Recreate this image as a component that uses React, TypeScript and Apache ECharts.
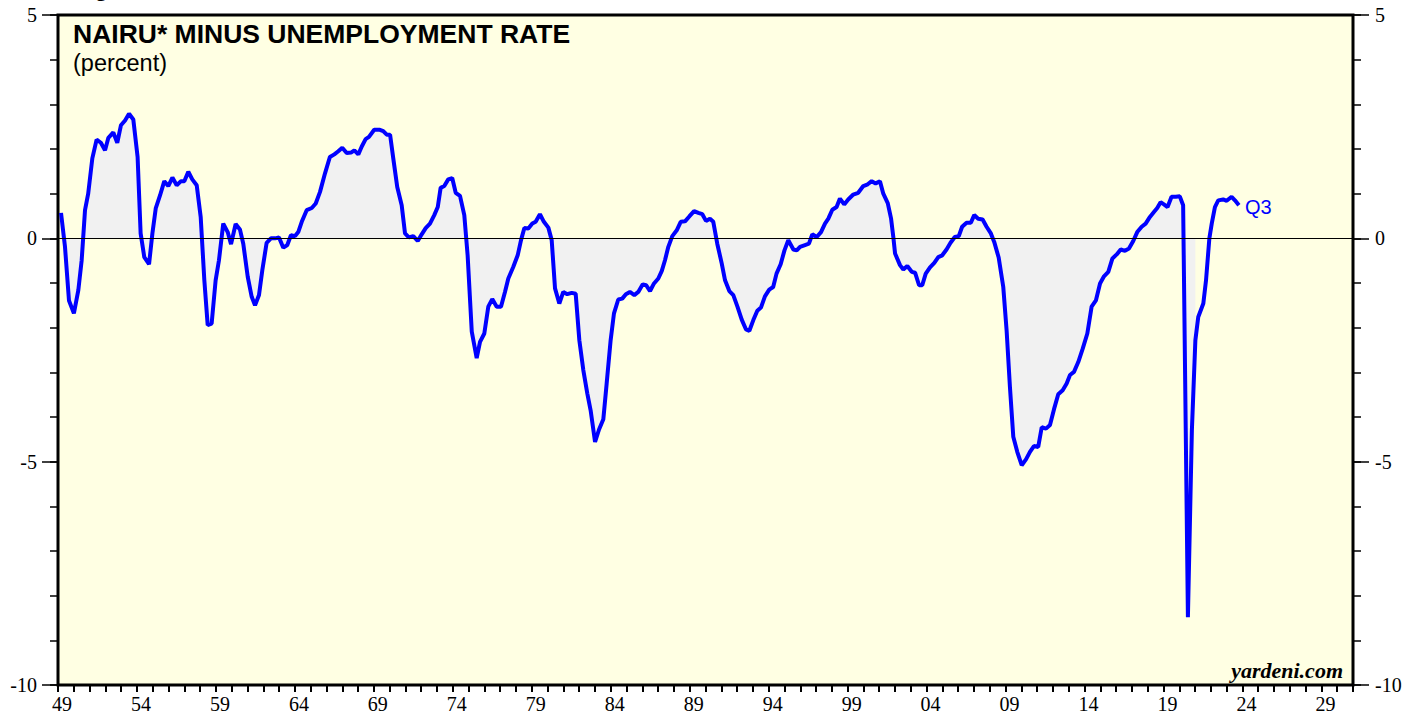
import React, { useEffect, useRef } from "react";
import * as echarts from "echarts";

// NAIRU minus unemployment rate as [year, percent]
const gap1949to1964: [number, number][] = [
  [1949.19, 0.57], [1949.44, -0.19], [1949.69, -1.39], [1950.0, -1.68], [1950.28, -1.16],
  [1950.49, -0.49], [1950.7, 0.63], [1950.9, 1.0], [1951.16, 1.79], [1951.43, 2.21],
  [1951.7, 2.14], [1951.96, 1.97], [1952.17, 2.25], [1952.48, 2.37], [1952.73, 2.14],
  [1952.96, 2.53], [1953.22, 2.64], [1953.47, 2.79], [1953.74, 2.66], [1954.01, 1.82],
  [1954.2, 0.11], [1954.43, -0.42], [1954.73, -0.58], [1954.94, 0.11], [1955.15, 0.67],
  [1955.42, 0.96], [1955.69, 1.28], [1955.94, 1.17], [1956.2, 1.36], [1956.47, 1.19],
  [1956.74, 1.28], [1956.95, 1.28], [1957.2, 1.49], [1957.45, 1.32], [1957.73, 1.19],
  [1957.98, 0.48], [1958.21, -0.94], [1958.42, -1.94], [1958.67, -1.91], [1958.92, -0.94],
  [1959.13, -0.49], [1959.4, 0.33], [1959.68, 0.14], [1959.89, -0.13], [1960.18, 0.32],
  [1960.45, 0.2], [1960.66, -0.12], [1960.94, -0.86], [1961.19, -1.31], [1961.4, -1.5],
  [1961.65, -1.27], [1961.86, -0.71], [1962.13, -0.1], [1962.4, 0.0], [1962.66, 0.0],
  [1962.91, 0.02], [1963.18, -0.21], [1963.43, -0.15], [1963.66, 0.07], [1963.92, 0.05],
  [1964.12, 0.14], [1964.34, 0.37], [1964.65, 0.63],
];

const gap1965to1979: [number, number][] = [
  [1964.97, 0.68], [1965.22, 0.78], [1965.49, 1.04], [1965.8, 1.45], [1966.11, 1.82],
  [1966.39, 1.88], [1966.64, 1.95], [1966.89, 2.03], [1967.17, 1.91], [1967.44, 1.92],
  [1967.65, 1.97], [1967.9, 1.88], [1968.11, 2.05], [1968.36, 2.22], [1968.57, 2.27],
  [1968.9, 2.43], [1969.26, 2.43], [1969.47, 2.4], [1969.69, 2.32], [1969.9, 2.32],
  [1970.1, 1.79], [1970.35, 1.15], [1970.63, 0.74], [1970.84, 0.11], [1971.08, 0.02],
  [1971.36, 0.05], [1971.64, -0.06], [1971.89, 0.09], [1972.14, 0.23], [1972.41, 0.33],
  [1972.68, 0.52], [1972.9, 0.7], [1973.08, 1.13], [1973.31, 1.17], [1973.56, 1.32],
  [1973.81, 1.35], [1974.03, 1.02], [1974.3, 0.95], [1974.57, 0.52], [1974.78, -0.38],
  [1975.04, -2.09], [1975.35, -2.68], [1975.56, -2.32], [1975.83, -2.13], [1976.08, -1.53],
  [1976.33, -1.36], [1976.61, -1.53], [1976.88, -1.53], [1977.13, -1.2], [1977.34, -0.9],
  [1977.65, -0.64], [1977.93, -0.38], [1978.14, -0.04], [1978.35, 0.23], [1978.6, 0.22],
  [1978.85, 0.33], [1979.06, 0.37], [1979.33, 0.54],
];

const gap1979to1994: [number, number][] = [
  [1979.58, 0.37], [1979.86, 0.24], [1980.07, -0.04], [1980.28, -1.12], [1980.55, -1.46],
  [1980.8, -1.2], [1981.05, -1.25], [1981.33, -1.22], [1981.58, -1.24], [1981.81, -2.28],
  [1982.06, -2.95], [1982.31, -3.47], [1982.52, -3.85], [1982.8, -4.56], [1983.05, -4.28],
  [1983.32, -4.05], [1983.53, -3.25], [1983.78, -2.28], [1983.99, -1.68], [1984.26, -1.37],
  [1984.51, -1.35], [1984.74, -1.25], [1984.99, -1.2], [1985.27, -1.27], [1985.52, -1.2],
  [1985.8, -1.03], [1986.01, -1.05], [1986.26, -1.18], [1986.51, -1.01], [1986.78, -0.9],
  [1987.0, -0.73], [1987.2, -0.49], [1987.41, -0.19], [1987.66, 0.05], [1987.94, 0.18],
  [1988.19, 0.37], [1988.46, 0.38], [1988.73, 0.49], [1989.03, 0.61], [1989.3, 0.57],
  [1989.55, 0.54], [1989.78, 0.39], [1990.03, 0.44], [1990.24, 0.37], [1990.49, -0.12],
  [1990.77, -0.56], [1990.98, -0.94], [1991.25, -1.18], [1991.5, -1.27], [1991.76, -1.53],
  [1992.03, -1.82], [1992.3, -2.04], [1992.51, -2.07], [1992.76, -1.83], [1993.01, -1.62],
  [1993.24, -1.55], [1993.49, -1.3], [1993.76, -1.15], [1994.01, -1.09], [1994.22, -0.79],
  [1994.48, -0.58], [1994.72, -0.27], [1994.96, -0.04],
];

const gap1995to2008: [number, number][] = [
  [1995.28, -0.25], [1995.49, -0.27], [1995.7, -0.19], [1996.01, -0.15], [1996.26, -0.12],
  [1996.47, 0.09], [1996.75, 0.03], [1997.02, 0.14], [1997.27, 0.33], [1997.48, 0.44],
  [1997.73, 0.64], [1998.0, 0.7], [1998.21, 0.89], [1998.48, 0.76], [1998.73, 0.87],
  [1999.05, 0.98], [1999.36, 1.02], [1999.68, 1.17], [1999.96, 1.21], [2000.21, 1.28],
  [2000.46, 1.23], [2000.73, 1.28], [2000.94, 1.0], [2001.22, 0.79], [2001.43, 0.44],
  [2001.57, 0.03], [2001.68, -0.34], [2001.99, -0.6], [2002.2, -0.7], [2002.45, -0.62],
  [2002.73, -0.75], [2002.94, -0.77], [2003.19, -1.05], [2003.39, -1.05], [2003.61, -0.79],
  [2003.88, -0.65], [2004.15, -0.55], [2004.4, -0.42], [2004.65, -0.38], [2004.92, -0.25],
  [2005.17, -0.1], [2005.44, 0.03], [2005.69, 0.05], [2005.9, 0.26], [2006.18, 0.35],
  [2006.45, 0.35], [2006.66, 0.52], [2006.91, 0.44], [2007.19, 0.42], [2007.44, 0.26],
  [2007.71, 0.11], [2007.92, -0.08], [2008.2, -0.43],
];

const gap2008to2023: [number, number][] = [
  [2008.49, -1.09], [2008.7, -2.06], [2008.91, -3.33], [2009.12, -4.44], [2009.37, -4.78],
  [2009.65, -5.08], [2009.92, -4.95], [2010.17, -4.78], [2010.42, -4.65], [2010.69, -4.67],
  [2010.91, -4.23], [2011.18, -4.26], [2011.43, -4.18], [2011.68, -3.83], [2011.95, -3.49],
  [2012.23, -3.4], [2012.48, -3.25], [2012.69, -3.06], [2012.94, -2.99], [2013.21, -2.77],
  [2013.49, -2.47], [2013.78, -2.13], [2014.05, -1.53], [2014.32, -1.39], [2014.58, -1.01],
  [2014.83, -0.85], [2015.1, -0.75], [2015.36, -0.45], [2015.63, -0.36], [2015.88, -0.25],
  [2016.15, -0.28], [2016.4, -0.23], [2016.67, -0.06], [2016.92, 0.14], [2017.2, 0.26],
  [2017.45, 0.33], [2017.72, 0.48], [2017.97, 0.59], [2018.18, 0.68], [2018.39, 0.81],
  [2018.6, 0.76], [2018.83, 0.7], [2019.08, 0.93], [2019.35, 0.93], [2019.6, 0.94],
  [2019.81, 0.74], [2020.11, -8.48], [2020.36, -4.3], [2020.58, -2.28], [2020.76, -1.76],
  [2021.08, -1.46], [2021.25, -0.94], [2021.46, 0.0], [2021.61, 0.33], [2021.81, 0.7],
  [2022.02, 0.85], [2022.33, 0.87], [2022.55, 0.84], [2022.86, 0.93], [2023.07, 0.85],
  [2023.32, 0.74],
];

const fillEndYear = 2020.58; // shaded area stops here in the reference
const labelYears = [1949, 1954, 1959, 1964, 1969, 1974, 1979, 1984, 1989, 1994, 1999, 2004, 2009, 2014, 2019, 2024, 2029];
const titleText = "NAIRU* MINUS UNEMPLOYMENT RATE";
const subtitleText = "(percent)";
const figureText = "Figure 1.";
const sourceText = "yardeni.com";
const lastLabel = "Q3";

const allGap = [...gap1949to1964, ...gap1965to1979, ...gap1979to1994, ...gap1995to2008, ...gap2008to2023];
const fillGap = allGap.filter((p) => p[0] <= fillEndYear);

const serif = '"Liberation Serif", "Times New Roman", serif';
const sans = '"Liberation Sans", Arial, sans-serif';

function buildOption(): echarts.EChartsOption {
  const yBase: any = {
    type: "value",
    min: -10,
    max: 5,
    axisLine: { show: false },
    splitLine: { show: false },
  };
  const majorLabel = { fontFamily: serif, fontSize: 20, color: "#000" };
  return {
    animation: false,
    backgroundColor: "#ffffff",
    grid: {
      left: 58,
      right: 66,
      top: 15,
      bottom: 30,
      show: true,
      backgroundColor: "#FFFFE3",
      borderColor: "#000",
      borderWidth: 3,
    },
    xAxis: [
      {
        type: "value",
        min: 1949,
        max: 2031,
        interval: 1,
        position: "bottom",
        axisLine: { show: false, onZero: false },
        splitLine: { show: false },
        axisTick: { show: true, length: 7, lineStyle: { color: "#000", width: 2 } },
        axisLabel: {
          fontFamily: serif,
          fontSize: 20,
          color: "#000",
          margin: 9,
          padding: [0, 0, 0, 8],
          showMinLabel: true,
          showMaxLabel: true,
          formatter: (v: number) => {
            const y = Math.round(v);
            return labelYears.includes(y) ? String(y).slice(2) : "";
          },
        },
      },
      { type: "value", min: 1949, max: 2030.5, show: false, axisLine: { onZero: false } },
    ],
    yAxis: [
      {
        ...yBase,
        position: "left",
        interval: 5,
        axisTick: { show: true, length: 16, lineStyle: { color: "#000", width: 1.5 } },
        axisLabel: { ...majorLabel, margin: 21 },
      },
      {
        ...yBase,
        position: "left",
        interval: 1,
        axisTick: { show: true, length: 8, lineStyle: { color: "#000", width: 1.5 } },
        axisLabel: { show: false },
      },
      {
        ...yBase,
        position: "right",
        interval: 5,
        axisTick: { show: true, length: 16, lineStyle: { color: "#000", width: 1.5 } },
        axisLabel: { ...majorLabel, margin: 22 },
      },
      {
        ...yBase,
        position: "right",
        interval: 1,
        axisTick: { show: true, length: 8, lineStyle: { color: "#000", width: 1.5 } },
        axisLabel: { show: false },
      },
    ],
    series: [
      {
        type: "line",
        xAxisIndex: 1,
        yAxisIndex: 0,
        data: fillGap,
        symbol: "none",
        silent: true,
        lineStyle: { width: 0, opacity: 0 },
        areaStyle: { color: "#F1F1F1", opacity: 1 },
        markLine: {
          silent: true,
          symbol: "none",
          label: { show: false },
          lineStyle: { color: "#000", width: 1, type: "solid" },
          data: [{ yAxis: 0 }],
        },
        z: 2,
      },
      {
        type: "line",
        xAxisIndex: 1,
        yAxisIndex: 0,
        data: allGap,
        symbol: "none",
        lineStyle: { color: "#0000FF", width: 4 },
        endLabel: {
          show: true,
          formatter: lastLabel,
          color: "#0000FF",
          fontFamily: sans,
          fontSize: 20,
          distance: 6,
          offset: [0, 2],
        },
        z: 3,
      },
    ],
    graphic: [
      {
        type: "text",
        x: 73,
        y: -1,
        style: { text: figureText, font: `bold 24px ${sans}`, fill: "#000", verticalAlign: "bottom" } as any,
      },
      {
        type: "text",
        x: 73,
        y: 34,
        style: { text: titleText, font: `bold 26.5px ${sans}`, fill: "#000", verticalAlign: "middle" } as any,
      },
      {
        type: "text",
        x: 73,
        y: 63,
        style: { text: subtitleText, font: `23.5px ${sans}`, fill: "#000", verticalAlign: "middle" } as any,
      },
      {
        type: "text",
        x: 1343,
        y: 670,
        style: {
          text: sourceText,
          font: `italic bold 22px ${serif}`,
          fill: "#000",
          align: "right",
          verticalAlign: "middle",
        } as any,
      },
    ],
  };
}

export default function App() {
  const ref = useRef<HTMLDivElement>(null);
  useEffect(() => {
    document.body.style.margin = "0";
    const chart = echarts.init(ref.current as HTMLDivElement, null, { renderer: "svg" });
    chart.setOption(buildOption());
    return () => chart.dispose();
  }, []);
  return <div ref={ref} style={{ width: 1419, height: 715 }} />;
}
